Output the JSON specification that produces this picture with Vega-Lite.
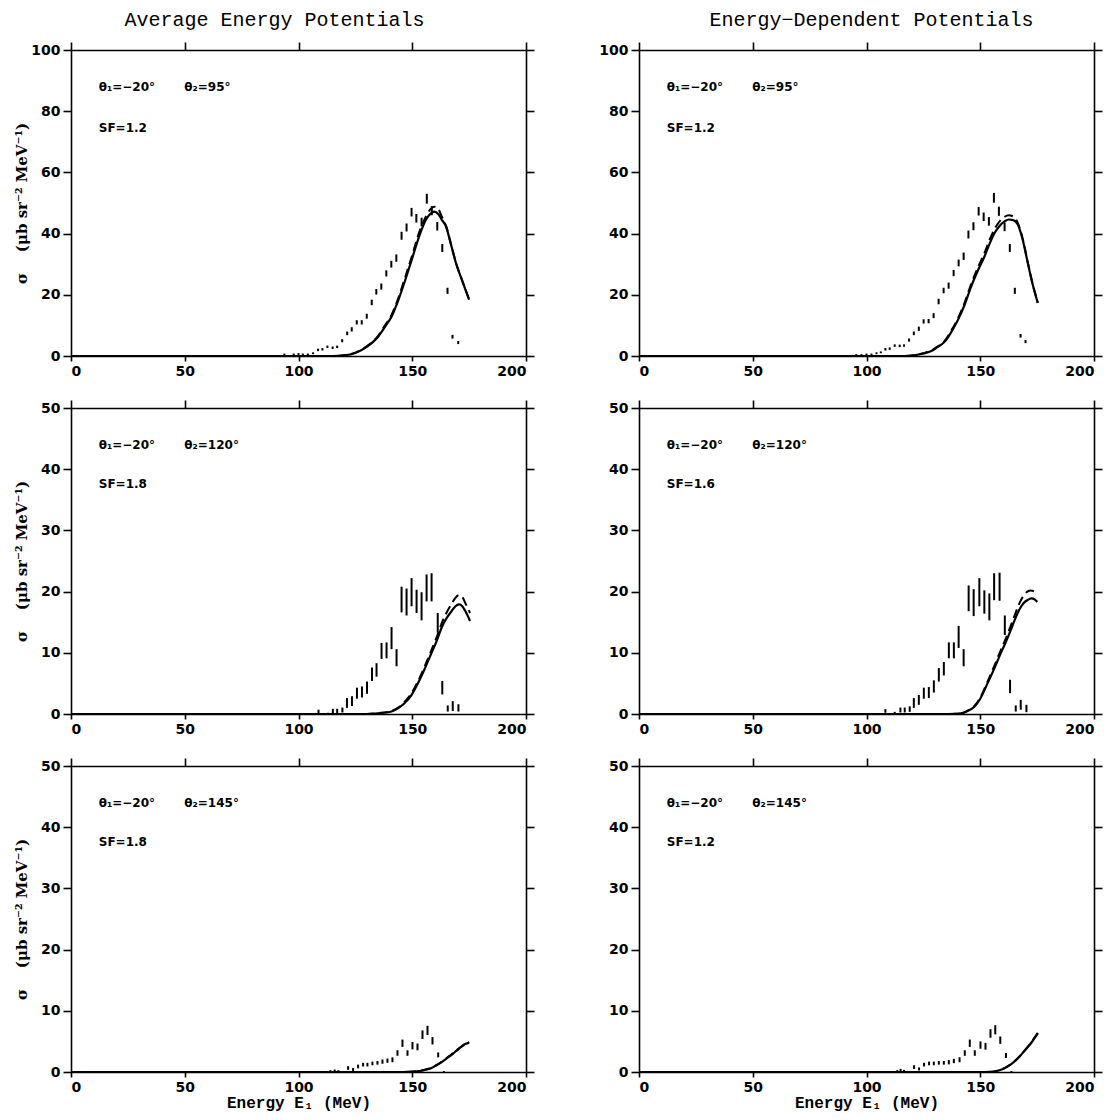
{
"$schema":"https://vega.github.io/schema/vega-lite/v6.json",
"background":"white",
"padding":{"left":14,"top":10,"right":4,"bottom":8},
"config":{"view":{"stroke":null},"axis":{"grid":false,"domainColor":"black","domainWidth":1.6,"tickColor":"black","tickWidth":1.6,"tickSize":8,"labelFont":"DejaVu Sans","labelFontWeight":"bold","labelFontSize":14,"labelColor":"black","titleColor":"black"}},
"datasets":{
"pts":[
{"p":1,"E":93.8,"v":0.5,"e":0.3},{"p":1,"E":97.9,"v":0.5,"e":0.3},{"p":1,"E":100,"v":0.65,"e":0.3},{"p":1,"E":101.9,"v":0.5,"e":0.3},{"p":1,"E":104.1,"v":0.5,"e":0.3},{"p":1,"E":106.4,"v":0.9,"e":0.3},{"p":1,"E":108.6,"v":2,"e":0.4},{"p":1,"E":110.5,"v":2.2,"e":0.4},{"p":1,"E":112.7,"v":3,"e":0.4},{"p":1,"E":115,"v":2.7,"e":0.4},{"p":1,"E":117,"v":3,"e":0.4},{"p":1,"E":119.2,"v":5,"e":0.5},{"p":1,"E":121.4,"v":7.4,"e":0.6},{"p":1,"E":123.4,"v":8.7,"e":0.7},{"p":1,"E":125.6,"v":11,"e":0.7},{"p":1,"E":127.8,"v":11,"e":0.7},{"p":1,"E":130,"v":13,"e":0.8},{"p":1,"E":132.2,"v":17.5,"e":0.9},{"p":1,"E":134.2,"v":21,"e":0.9},{"p":1,"E":136.4,"v":22.7,"e":1},{"p":1,"E":138.6,"v":27,"e":1},{"p":1,"E":140.8,"v":30,"e":1.1},{"p":1,"E":143,"v":32,"e":1.2},{"p":1,"E":145.3,"v":39.3,"e":1.3},{"p":1,"E":147.5,"v":42,"e":1.3},{"p":1,"E":149.7,"v":47,"e":1.4},{"p":1,"E":151.8,"v":45,"e":1.4},{"p":1,"E":154.1,"v":43.8,"e":1.4},{"p":1,"E":156.4,"v":51.4,"e":1.6},{"p":1,"E":158.6,"v":47.5,"e":1.5},{"p":1,"E":161,"v":42.4,"e":1.4},{"p":1,"E":163.2,"v":35.3,"e":1.3},{"p":1,"E":165.5,"v":21.3,"e":1},{"p":1,"E":167.7,"v":6.3,"e":0.6},{"p":1,"E":170.2,"v":4.4,"e":0.5},
{"p":2,"E":95.5,"v":0.3,"e":0.3},{"p":2,"E":97.8,"v":0.3,"e":0.3},{"p":2,"E":100,"v":0.5,"e":0.3},{"p":2,"E":102.2,"v":0.5,"e":0.3},{"p":2,"E":104.4,"v":0.9,"e":0.3},{"p":2,"E":106.3,"v":1.2,"e":0.3},{"p":2,"E":108.3,"v":2.2,"e":0.4},{"p":2,"E":110.2,"v":2.4,"e":0.4},{"p":2,"E":112.4,"v":3.4,"e":0.4},{"p":2,"E":114.6,"v":3.3,"e":0.4},{"p":2,"E":116.5,"v":3.4,"e":0.4},{"p":2,"E":118.7,"v":5.2,"e":0.5},{"p":2,"E":120.8,"v":7.4,"e":0.6},{"p":2,"E":123,"v":8.9,"e":0.7},{"p":2,"E":125.1,"v":11.3,"e":0.7},{"p":2,"E":127.3,"v":11.4,"e":0.7},{"p":2,"E":129.5,"v":13.2,"e":0.8},{"p":2,"E":131.7,"v":17.8,"e":0.9},{"p":2,"E":133.9,"v":21.4,"e":0.9},{"p":2,"E":136.1,"v":23,"e":1},{"p":2,"E":138.3,"v":27.1,"e":1},{"p":2,"E":140.5,"v":30.4,"e":1.1},{"p":2,"E":142.7,"v":32.6,"e":1.2},{"p":2,"E":144.8,"v":39.7,"e":1.3},{"p":2,"E":147,"v":42.4,"e":1.3},{"p":2,"E":149.3,"v":47.3,"e":1.4},{"p":2,"E":151.5,"v":45.5,"e":1.4},{"p":2,"E":153.8,"v":44,"e":1.4},{"p":2,"E":156,"v":51.7,"e":1.6},{"p":2,"E":158.2,"v":47.3,"e":1.5},{"p":2,"E":160.7,"v":42.2,"e":1.4},{"p":2,"E":163,"v":35.3,"e":1.3},{"p":2,"E":165.2,"v":21.3,"e":1},{"p":2,"E":167.7,"v":6.6,"e":0.6},{"p":2,"E":169.9,"v":4.7,"e":0.5},
{"p":3,"E":108.8,"v":0.4,"e":0.3},{"p":3,"E":112.9,"v":0.1,"e":0.1},{"p":3,"E":115.1,"v":0.5,"e":0.35},{"p":3,"E":117,"v":0.5,"e":0.35},{"p":3,"E":119.3,"v":0.65,"e":0.4},{"p":3,"E":121.3,"v":1.8,"e":0.8},{"p":3,"E":123.5,"v":2.1,"e":0.8},{"p":3,"E":125.7,"v":3.4,"e":0.9},{"p":3,"E":127.9,"v":3.6,"e":0.9},{"p":3,"E":130.1,"v":4.3,"e":1},{"p":3,"E":132.3,"v":6.5,"e":1.1},{"p":3,"E":134.3,"v":7.2,"e":1.1},{"p":3,"E":136.5,"v":10.3,"e":1.3},{"p":3,"E":138.7,"v":10.4,"e":1.3},{"p":3,"E":140.9,"v":12.4,"e":1.8},{"p":3,"E":143.1,"v":9.2,"e":1.4},{"p":3,"E":145.3,"v":18.7,"e":2.1},{"p":3,"E":147.5,"v":18.3,"e":2.2},{"p":3,"E":149.7,"v":19.9,"e":2.3},{"p":3,"E":151.9,"v":18.4,"e":1.9},{"p":3,"E":154.1,"v":17.6,"e":2.3},{"p":3,"E":156.3,"v":20.6,"e":2.2},{"p":3,"E":158.5,"v":20.7,"e":2.3},{"p":3,"E":161.2,"v":14.9,"e":1.6},{"p":3,"E":163.2,"v":4.3,"e":1.1},{"p":3,"E":165.6,"v":0.9,"e":0.5},{"p":3,"E":167.8,"v":1.3,"e":0.8},{"p":3,"E":170.3,"v":1,"e":0.6},
{"p":4,"E":108.3,"v":0.5,"e":0.3},{"p":4,"E":112.4,"v":0.2,"e":0.15},{"p":4,"E":114.9,"v":0.65,"e":0.4},{"p":4,"E":116.8,"v":0.65,"e":0.4},{"p":4,"E":119,"v":0.8,"e":0.45},{"p":4,"E":120.8,"v":1.8,"e":0.8},{"p":4,"E":123,"v":2.3,"e":0.8},{"p":4,"E":125.2,"v":3.4,"e":0.9},{"p":4,"E":127.4,"v":3.5,"e":0.9},{"p":4,"E":129.6,"v":4.5,"e":1},{"p":4,"E":131.8,"v":6.4,"e":1.1},{"p":4,"E":134,"v":7.4,"e":1.1},{"p":4,"E":136.2,"v":10.4,"e":1.3},{"p":4,"E":138.4,"v":10.4,"e":1.3},{"p":4,"E":140.5,"v":12.6,"e":1.8},{"p":4,"E":142.7,"v":9.2,"e":1.4},{"p":4,"E":144.9,"v":18.9,"e":2.1},{"p":4,"E":147.1,"v":18.2,"e":2.2},{"p":4,"E":149.6,"v":19.9,"e":2.3},{"p":4,"E":151.8,"v":18.3,"e":1.9},{"p":4,"E":154,"v":17.5,"e":2.2},{"p":4,"E":156.1,"v":20.8,"e":2.2},{"p":4,"E":158.5,"v":20.8,"e":2.3},{"p":4,"E":160.8,"v":14.5,"e":1.6},{"p":4,"E":163.1,"v":4.5,"e":1.1},{"p":4,"E":165.6,"v":0.9,"e":0.5},{"p":4,"E":167.8,"v":1.5,"e":0.8},{"p":4,"E":170.3,"v":0.9,"e":0.6},
{"p":5,"E":114,"v":0.15,"e":0.15},{"p":5,"E":115.9,"v":0.2,"e":0.2},{"p":5,"E":117.5,"v":0.15,"e":0.15},{"p":5,"E":121.8,"v":0.65,"e":0.3},{"p":5,"E":124,"v":0.4,"e":0.25},{"p":5,"E":126.2,"v":0.9,"e":0.3},{"p":5,"E":128.4,"v":1.2,"e":0.3},{"p":5,"E":130.3,"v":1.2,"e":0.3},{"p":5,"E":132.5,"v":1.4,"e":0.3},{"p":5,"E":134.7,"v":1.5,"e":0.3},{"p":5,"E":136.9,"v":1.7,"e":0.35},{"p":5,"E":139.1,"v":1.85,"e":0.35},{"p":5,"E":141.3,"v":2,"e":0.4},{"p":5,"E":143.5,"v":3.1,"e":0.45},{"p":5,"E":145.7,"v":4.7,"e":0.6},{"p":5,"E":147.9,"v":3.1,"e":0.45},{"p":5,"E":150.1,"v":4.3,"e":0.6},{"p":5,"E":152.3,"v":4.1,"e":0.55},{"p":5,"E":154.5,"v":6.1,"e":0.7},{"p":5,"E":156.7,"v":6.8,"e":0.75},{"p":5,"E":158.9,"v":5.1,"e":0.6},{"p":5,"E":161.4,"v":2.8,"e":0.4},{"p":5,"E":163.9,"v":0.05,"e":0.1},
{"p":6,"E":113.5,"v":0.15,"e":0.15},{"p":6,"E":115,"v":0.3,"e":0.2},{"p":6,"E":116.5,"v":0.2,"e":0.15},{"p":6,"E":120.9,"v":0.8,"e":0.3},{"p":6,"E":123.1,"v":0.5,"e":0.25},{"p":6,"E":125.3,"v":1.2,"e":0.3},{"p":6,"E":127.5,"v":1.4,"e":0.3},{"p":6,"E":129.6,"v":1.4,"e":0.3},{"p":6,"E":131.8,"v":1.5,"e":0.3},{"p":6,"E":134,"v":1.5,"e":0.3},{"p":6,"E":136.2,"v":1.6,"e":0.35},{"p":6,"E":138.4,"v":1.8,"e":0.35},{"p":6,"E":140.9,"v":2,"e":0.4},{"p":6,"E":143.2,"v":3.1,"e":0.45},{"p":6,"E":145.4,"v":4.7,"e":0.6},{"p":6,"E":147.6,"v":3.1,"e":0.45},{"p":6,"E":150.1,"v":4.4,"e":0.6},{"p":6,"E":152.3,"v":4.2,"e":0.55},{"p":6,"E":154.5,"v":6.3,"e":0.7},{"p":6,"E":156.6,"v":6.9,"e":0.75},{"p":6,"E":158.8,"v":5.2,"e":0.6},{"p":6,"E":161.3,"v":2.7,"e":0.4},{"p":6,"E":163.7,"v":0.05,"e":0.1}
],
"curves":[
{"p":1,"k":"s","E":0,"v":0},{"p":1,"k":"s","E":115,"v":0},{"p":1,"k":"s","E":120,"v":0.2},{"p":1,"k":"s","E":125,"v":1},{"p":1,"k":"s","E":130,"v":3},{"p":1,"k":"s","E":135,"v":6.3},{"p":1,"k":"s","E":138,"v":9.5},{"p":1,"k":"s","E":141,"v":13},{"p":1,"k":"s","E":144,"v":18.5},{"p":1,"k":"s","E":147,"v":25},{"p":1,"k":"s","E":150,"v":32},{"p":1,"k":"s","E":153,"v":39},{"p":1,"k":"s","E":156,"v":44.5},{"p":1,"k":"s","E":158,"v":46.5},{"p":1,"k":"s","E":159.7,"v":47.2},{"p":1,"k":"s","E":161.5,"v":46.3},{"p":1,"k":"s","E":163,"v":44.5},{"p":1,"k":"s","E":164.8,"v":42.4},{"p":1,"k":"s","E":167,"v":36.5},{"p":1,"k":"s","E":169.2,"v":30.4},{"p":1,"k":"s","E":172,"v":24.5},{"p":1,"k":"s","E":175,"v":18.4},
{"p":1,"k":"d","E":0,"v":0},{"p":1,"k":"d","E":115,"v":0},{"p":1,"k":"d","E":120,"v":0.25},{"p":1,"k":"d","E":125,"v":1.1},{"p":1,"k":"d","E":130,"v":3.2},{"p":1,"k":"d","E":135,"v":6.6},{"p":1,"k":"d","E":138,"v":10},{"p":1,"k":"d","E":141,"v":13.6},{"p":1,"k":"d","E":144,"v":19.2},{"p":1,"k":"d","E":147,"v":26},{"p":1,"k":"d","E":150,"v":33},{"p":1,"k":"d","E":153,"v":40.3},{"p":1,"k":"d","E":156,"v":45.6},{"p":1,"k":"d","E":158,"v":48},{"p":1,"k":"d","E":159.7,"v":48.8},{"p":1,"k":"d","E":161.5,"v":48},{"p":1,"k":"d","E":163,"v":45.5},{"p":1,"k":"d","E":164.8,"v":42.6},{"p":1,"k":"d","E":167,"v":36.7},{"p":1,"k":"d","E":169.2,"v":30.5},{"p":1,"k":"d","E":172,"v":24.6},{"p":1,"k":"d","E":175,"v":18.5},
{"p":2,"k":"s","E":0,"v":0},{"p":2,"k":"s","E":117,"v":0},{"p":2,"k":"s","E":121,"v":0.2},{"p":2,"k":"s","E":125,"v":0.8},{"p":2,"k":"s","E":128.5,"v":1.6},{"p":2,"k":"s","E":131,"v":2.8},{"p":2,"k":"s","E":134.4,"v":4.7},{"p":2,"k":"s","E":137,"v":7.5},{"p":2,"k":"s","E":140.2,"v":11.8},{"p":2,"k":"s","E":143,"v":16.5},{"p":2,"k":"s","E":146,"v":22.7},{"p":2,"k":"s","E":149,"v":28},{"p":2,"k":"s","E":151.9,"v":32.6},{"p":2,"k":"s","E":154,"v":36.5},{"p":2,"k":"s","E":156.3,"v":40.2},{"p":2,"k":"s","E":158.5,"v":42.5},{"p":2,"k":"s","E":160.7,"v":44},{"p":2,"k":"s","E":162.5,"v":44.6},{"p":2,"k":"s","E":164.5,"v":44.4},{"p":2,"k":"s","E":166.5,"v":43},{"p":2,"k":"s","E":168.5,"v":38.5},{"p":2,"k":"s","E":170.9,"v":30.4},{"p":2,"k":"s","E":173,"v":23.5},{"p":2,"k":"s","E":175.3,"v":17.3},
{"p":2,"k":"d","E":0,"v":0},{"p":2,"k":"d","E":117,"v":0},{"p":2,"k":"d","E":121,"v":0.25},{"p":2,"k":"d","E":125,"v":0.9},{"p":2,"k":"d","E":128.5,"v":1.8},{"p":2,"k":"d","E":131,"v":3},{"p":2,"k":"d","E":134.4,"v":5},{"p":2,"k":"d","E":137,"v":8},{"p":2,"k":"d","E":140.2,"v":12.3},{"p":2,"k":"d","E":143,"v":17.2},{"p":2,"k":"d","E":146,"v":23.5},{"p":2,"k":"d","E":149,"v":29},{"p":2,"k":"d","E":151.9,"v":33.8},{"p":2,"k":"d","E":154,"v":37.8},{"p":2,"k":"d","E":156.3,"v":41.5},{"p":2,"k":"d","E":158.5,"v":44},{"p":2,"k":"d","E":160.7,"v":45.5},{"p":2,"k":"d","E":162.5,"v":46},{"p":2,"k":"d","E":164.5,"v":45.6},{"p":2,"k":"d","E":166.5,"v":43.5},{"p":2,"k":"d","E":168.5,"v":38.8},{"p":2,"k":"d","E":170.9,"v":30.6},{"p":2,"k":"d","E":173,"v":23.7},{"p":2,"k":"d","E":175.3,"v":17.4},
{"p":3,"k":"s","E":0,"v":0},{"p":3,"k":"s","E":130,"v":0},{"p":3,"k":"s","E":135,"v":0.1},{"p":3,"k":"s","E":140.9,"v":0.4},{"p":3,"k":"s","E":144,"v":1},{"p":3,"k":"s","E":146.7,"v":1.8},{"p":3,"k":"s","E":149.5,"v":3},{"p":3,"k":"s","E":152.6,"v":5.1},{"p":3,"k":"s","E":155.5,"v":7.4},{"p":3,"k":"s","E":158.5,"v":10},{"p":3,"k":"s","E":160.8,"v":12},{"p":3,"k":"s","E":162.9,"v":14.1},{"p":3,"k":"s","E":165,"v":15.6},{"p":3,"k":"s","E":167.3,"v":16.8},{"p":3,"k":"s","E":169,"v":17.6},{"p":3,"k":"s","E":170.5,"v":17.9},{"p":3,"k":"s","E":172,"v":17.6},{"p":3,"k":"s","E":173.2,"v":16.9},{"p":3,"k":"s","E":175.4,"v":15.2},
{"p":3,"k":"d","E":0,"v":0},{"p":3,"k":"d","E":130,"v":0},{"p":3,"k":"d","E":135,"v":0.15},{"p":3,"k":"d","E":140.9,"v":0.5},{"p":3,"k":"d","E":144,"v":1.1},{"p":3,"k":"d","E":146.7,"v":2},{"p":3,"k":"d","E":149.5,"v":3.3},{"p":3,"k":"d","E":152.6,"v":5.4},{"p":3,"k":"d","E":155.5,"v":7.8},{"p":3,"k":"d","E":158.5,"v":10.5},{"p":3,"k":"d","E":160.8,"v":12.6},{"p":3,"k":"d","E":162.9,"v":14.8},{"p":3,"k":"d","E":165,"v":16.5},{"p":3,"k":"d","E":167.3,"v":18},{"p":3,"k":"d","E":169,"v":19},{"p":3,"k":"d","E":170.5,"v":19.4},{"p":3,"k":"d","E":172,"v":19.1},{"p":3,"k":"d","E":173.5,"v":18},{"p":3,"k":"d","E":175.4,"v":16.5},
{"p":4,"k":"s","E":0,"v":0},{"p":4,"k":"s","E":136,"v":0},{"p":4,"k":"s","E":141.5,"v":0.1},{"p":4,"k":"s","E":144.5,"v":0.5},{"p":4,"k":"s","E":147.4,"v":1.2},{"p":4,"k":"s","E":150,"v":2.5},{"p":4,"k":"s","E":153.2,"v":5},{"p":4,"k":"s","E":156,"v":7.3},{"p":4,"k":"s","E":159,"v":9.9},{"p":4,"k":"s","E":161.3,"v":11.8},{"p":4,"k":"s","E":163.4,"v":13.7},{"p":4,"k":"s","E":165.3,"v":15.5},{"p":4,"k":"s","E":167.1,"v":17},{"p":4,"k":"s","E":169,"v":18.1},{"p":4,"k":"s","E":170.7,"v":18.6},{"p":4,"k":"s","E":172.5,"v":18.9},{"p":4,"k":"s","E":174,"v":18.7},{"p":4,"k":"s","E":175.1,"v":18.3},
{"p":4,"k":"d","E":0,"v":0},{"p":4,"k":"d","E":136,"v":0},{"p":4,"k":"d","E":141.5,"v":0.12},{"p":4,"k":"d","E":144.5,"v":0.55},{"p":4,"k":"d","E":147.4,"v":1.3},{"p":4,"k":"d","E":150,"v":2.7},{"p":4,"k":"d","E":153.2,"v":5.3},{"p":4,"k":"d","E":156,"v":7.7},{"p":4,"k":"d","E":159,"v":10.4},{"p":4,"k":"d","E":161.3,"v":12.4},{"p":4,"k":"d","E":163.4,"v":14.4},{"p":4,"k":"d","E":165.3,"v":16.3},{"p":4,"k":"d","E":167.1,"v":18},{"p":4,"k":"d","E":169,"v":19.3},{"p":4,"k":"d","E":170.7,"v":20},{"p":4,"k":"d","E":172.2,"v":20.2},{"p":4,"k":"d","E":174,"v":20},{"p":4,"k":"d","E":175.1,"v":19.8},
{"p":5,"k":"s","E":0,"v":0},{"p":5,"k":"s","E":146,"v":0},{"p":5,"k":"s","E":149.7,"v":0.05},{"p":5,"k":"s","E":152,"v":0.12},{"p":5,"k":"s","E":154,"v":0.2},{"p":5,"k":"s","E":156.3,"v":0.4},{"p":5,"k":"s","E":158.5,"v":0.65},{"p":5,"k":"s","E":160.7,"v":1.1},{"p":5,"k":"s","E":162.9,"v":1.6},{"p":5,"k":"s","E":165,"v":2.2},{"p":5,"k":"s","E":167.3,"v":2.8},{"p":5,"k":"s","E":169.5,"v":3.5},{"p":5,"k":"s","E":171.7,"v":4.2},{"p":5,"k":"s","E":173.5,"v":4.6},{"p":5,"k":"s","E":175,"v":4.8},
{"p":5,"k":"d","E":0,"v":0},{"p":5,"k":"d","E":146,"v":0},{"p":5,"k":"d","E":149.7,"v":0.06},{"p":5,"k":"d","E":152,"v":0.14},{"p":5,"k":"d","E":154,"v":0.25},{"p":5,"k":"d","E":156.3,"v":0.45},{"p":5,"k":"d","E":158.5,"v":0.7},{"p":5,"k":"d","E":160.7,"v":1.15},{"p":5,"k":"d","E":162.9,"v":1.65},{"p":5,"k":"d","E":165,"v":2.25},{"p":5,"k":"d","E":167.3,"v":2.9},{"p":5,"k":"d","E":169.5,"v":3.55},{"p":5,"k":"d","E":171.7,"v":4.15},{"p":5,"k":"d","E":173.5,"v":4.55},{"p":5,"k":"d","E":175,"v":4.9},
{"p":6,"k":"s","E":0,"v":0},{"p":6,"k":"s","E":152,"v":0},{"p":6,"k":"s","E":155.9,"v":0.05},{"p":6,"k":"s","E":158,"v":0.25},{"p":6,"k":"s","E":160.3,"v":0.55},{"p":6,"k":"s","E":162.5,"v":1},{"p":6,"k":"s","E":164.7,"v":1.6},{"p":6,"k":"s","E":167,"v":2.4},{"p":6,"k":"s","E":169.1,"v":3.3},{"p":6,"k":"s","E":171,"v":4.1},{"p":6,"k":"s","E":172.7,"v":4.9},{"p":6,"k":"s","E":174,"v":5.6},{"p":6,"k":"s","E":175.3,"v":6.3},
{"p":6,"k":"d","E":0,"v":0},{"p":6,"k":"d","E":152,"v":0},{"p":6,"k":"d","E":155.9,"v":0.06},{"p":6,"k":"d","E":158,"v":0.27},{"p":6,"k":"d","E":160.3,"v":0.6},{"p":6,"k":"d","E":162.5,"v":1.05},{"p":6,"k":"d","E":164.7,"v":1.65},{"p":6,"k":"d","E":167,"v":2.45},{"p":6,"k":"d","E":169.1,"v":3.35},{"p":6,"k":"d","E":171,"v":4.2},{"p":6,"k":"d","E":172.7,"v":5},{"p":6,"k":"d","E":174,"v":5.7},{"p":6,"k":"d","E":175.3,"v":6.4}
],
"ann":[
{"p":1,"t1":"θ₁=−20°\u00a0\u00a0\u00a0\u00a0\u00a0\u00a0\u00a0θ₂=95°","t2":"SF=1.2"},
{"p":2,"t1":"θ₁=−20°\u00a0\u00a0\u00a0\u00a0\u00a0\u00a0\u00a0θ₂=95°","t2":"SF=1.2"},
{"p":3,"t1":"θ₁=−20°\u00a0\u00a0\u00a0\u00a0\u00a0\u00a0\u00a0θ₂=120°","t2":"SF=1.8"},
{"p":4,"t1":"θ₁=−20°\u00a0\u00a0\u00a0\u00a0\u00a0\u00a0\u00a0θ₂=120°","t2":"SF=1.6"},
{"p":5,"t1":"θ₁=−20°\u00a0\u00a0\u00a0\u00a0\u00a0\u00a0\u00a0θ₂=145°","t2":"SF=1.8"},
{"p":6,"t1":"θ₁=−20°\u00a0\u00a0\u00a0\u00a0\u00a0\u00a0\u00a0θ₂=145°","t2":"SF=1.2"}
]},
"columns":2,
"spacing":{"row":52,"column":113},
"bounds":"flush",
"concat":[
{"width":455,"height":306,
 "title":{"text":"Average Energy Potentials","font":"Liberation Mono","fontSize":20,"fontWeight":"normal","color":"black","offset":11,"dx":-24},
 "resolve":{"axis":{"x":"independent","y":"independent"}},
 "layer":[
  {"data":{"name":"pts"},"transform":[{"filter":"datum.p==1"}],"mark":{"type":"errorbar","rule":{"stroke":"black","strokeWidth":2}},
   "encoding":{"x":{"field":"E","type":"quantitative","scale":{"domain":[0,200]},"axis":{"values":[0,50,100,150,200],"title":null,"tickSize":5,"labelPadding":3}},
    "y":{"field":"v","type":"quantitative","scale":{"domain":[0,100]},"axis":{"values":[0,20,40,60,80,100],"title":"σ\u00a0\u00a0\u00a0\u00a0(μb sr⁻² MeV⁻¹)","titleFont":"DejaVu Serif","titleFontSize":15,"titleFontWeight":"bold","titleX":-50,"titleBaseline":"middle","labelPadding":3}},
    "yError":{"field":"e"}}},
  {"data":{"name":"curves"},"transform":[{"filter":"datum.p==1 && datum.k=='s'"}],"mark":{"type":"line","color":"black","strokeWidth":2.2,"interpolate":"monotone"},
   "encoding":{"x":{"field":"E","type":"quantitative","scale":{"domain":[0,200]},"axis":{"orient":"top","labels":false,"title":null,"values":[0,50,100,150,200]}},
    "y":{"field":"v","type":"quantitative","scale":{"domain":[0,100]},"axis":{"orient":"right","labels":false,"title":null,"values":[0,20,40,60,80,100]}}}},
  {"data":{"name":"curves"},"transform":[{"filter":"datum.p==1 && datum.k=='d'"}],"mark":{"type":"line","color":"black","strokeWidth":2,"strokeDash":[9,5],"interpolate":"monotone"},
   "encoding":{"x":{"field":"E","type":"quantitative","scale":{"domain":[0,200]},"axis":null},"y":{"field":"v","type":"quantitative","scale":{"domain":[0,100]},"axis":null}}},
  {"data":{"name":"ann"},"transform":[{"filter":"datum.p==1"}],"mark":{"type":"text","align":"left","baseline":"middle","font":"DejaVu Sans","fontWeight":"bold","fontSize":12,"color":"black"},
   "encoding":{"x":{"datum":12.2,"type":"quantitative","axis":null},"y":{"datum":88,"type":"quantitative","axis":null},"text":{"field":"t1"}}},
  {"data":{"name":"ann"},"transform":[{"filter":"datum.p==1"}],"mark":{"type":"text","align":"left","baseline":"middle","font":"DejaVu Sans","fontWeight":"bold","fontSize":12,"color":"black"},
   "encoding":{"x":{"datum":12.2,"type":"quantitative","axis":null},"y":{"datum":74.5,"type":"quantitative","axis":null},"text":{"field":"t2"}}}
 ]},
{"width":455,"height":306,
 "title":{"text":"Energy−Dependent Potentials","font":"Liberation Mono","fontSize":20,"fontWeight":"normal","color":"black","offset":11,"dx":5},
 "resolve":{"axis":{"x":"independent","y":"independent"}},
 "layer":[
  {"data":{"name":"pts"},"transform":[{"filter":"datum.p==2"}],"mark":{"type":"errorbar","rule":{"stroke":"black","strokeWidth":2}},
   "encoding":{"x":{"field":"E","type":"quantitative","scale":{"domain":[0,200]},"axis":{"values":[0,50,100,150,200],"title":null,"tickSize":5,"labelPadding":3}},
    "y":{"field":"v","type":"quantitative","scale":{"domain":[0,100]},"axis":{"values":[0,20,40,60,80,100],"title":null,"labelPadding":3}},
    "yError":{"field":"e"}}},
  {"data":{"name":"curves"},"transform":[{"filter":"datum.p==2 && datum.k=='s'"}],"mark":{"type":"line","color":"black","strokeWidth":2.2,"interpolate":"monotone"},
   "encoding":{"x":{"field":"E","type":"quantitative","scale":{"domain":[0,200]},"axis":{"orient":"top","labels":false,"title":null,"values":[0,50,100,150,200]}},
    "y":{"field":"v","type":"quantitative","scale":{"domain":[0,100]},"axis":{"orient":"right","labels":false,"title":null,"values":[0,20,40,60,80,100]}}}},
  {"data":{"name":"curves"},"transform":[{"filter":"datum.p==2 && datum.k=='d'"}],"mark":{"type":"line","color":"black","strokeWidth":2,"strokeDash":[9,5],"interpolate":"monotone"},
   "encoding":{"x":{"field":"E","type":"quantitative","scale":{"domain":[0,200]},"axis":null},"y":{"field":"v","type":"quantitative","scale":{"domain":[0,100]},"axis":null}}},
  {"data":{"name":"ann"},"transform":[{"filter":"datum.p==2"}],"mark":{"type":"text","align":"left","baseline":"middle","font":"DejaVu Sans","fontWeight":"bold","fontSize":12,"color":"black"},
   "encoding":{"x":{"datum":12.2,"type":"quantitative","axis":null},"y":{"datum":88,"type":"quantitative","axis":null},"text":{"field":"t1"}}},
  {"data":{"name":"ann"},"transform":[{"filter":"datum.p==2"}],"mark":{"type":"text","align":"left","baseline":"middle","font":"DejaVu Sans","fontWeight":"bold","fontSize":12,"color":"black"},
   "encoding":{"x":{"datum":12.2,"type":"quantitative","axis":null},"y":{"datum":74.5,"type":"quantitative","axis":null},"text":{"field":"t2"}}}
 ]},
{"width":455,"height":306,
 "resolve":{"axis":{"x":"independent","y":"independent"}},
 "layer":[
  {"data":{"name":"pts"},"transform":[{"filter":"datum.p==3"}],"mark":{"type":"errorbar","rule":{"stroke":"black","strokeWidth":2}},
   "encoding":{"x":{"field":"E","type":"quantitative","scale":{"domain":[0,200]},"axis":{"values":[0,50,100,150,200],"title":null,"tickSize":5,"labelPadding":3}},
    "y":{"field":"v","type":"quantitative","scale":{"domain":[0,50]},"axis":{"values":[0,10,20,30,40,50],"title":"σ\u00a0\u00a0\u00a0\u00a0(μb sr⁻² MeV⁻¹)","titleFont":"DejaVu Serif","titleFontSize":15,"titleFontWeight":"bold","titleX":-50,"titleBaseline":"middle","labelPadding":3}},
    "yError":{"field":"e"}}},
  {"data":{"name":"curves"},"transform":[{"filter":"datum.p==3 && datum.k=='s'"}],"mark":{"type":"line","color":"black","strokeWidth":2.2,"interpolate":"monotone"},
   "encoding":{"x":{"field":"E","type":"quantitative","scale":{"domain":[0,200]},"axis":{"orient":"top","labels":false,"title":null,"values":[0,50,100,150,200]}},
    "y":{"field":"v","type":"quantitative","scale":{"domain":[0,50]},"axis":{"orient":"right","labels":false,"title":null,"values":[0,10,20,30,40,50]}}}},
  {"data":{"name":"curves"},"transform":[{"filter":"datum.p==3 && datum.k=='d'"}],"mark":{"type":"line","color":"black","strokeWidth":2,"strokeDash":[9,5],"interpolate":"monotone"},
   "encoding":{"x":{"field":"E","type":"quantitative","scale":{"domain":[0,200]},"axis":null},"y":{"field":"v","type":"quantitative","scale":{"domain":[0,50]},"axis":null}}},
  {"data":{"name":"ann"},"transform":[{"filter":"datum.p==3"}],"mark":{"type":"text","align":"left","baseline":"middle","font":"DejaVu Sans","fontWeight":"bold","fontSize":12,"color":"black"},
   "encoding":{"x":{"datum":12.2,"type":"quantitative","axis":null},"y":{"datum":44,"type":"quantitative","axis":null},"text":{"field":"t1"}}},
  {"data":{"name":"ann"},"transform":[{"filter":"datum.p==3"}],"mark":{"type":"text","align":"left","baseline":"middle","font":"DejaVu Sans","fontWeight":"bold","fontSize":12,"color":"black"},
   "encoding":{"x":{"datum":12.2,"type":"quantitative","axis":null},"y":{"datum":37.6,"type":"quantitative","axis":null},"text":{"field":"t2"}}}
 ]},
{"width":455,"height":306,
 "resolve":{"axis":{"x":"independent","y":"independent"}},
 "layer":[
  {"data":{"name":"pts"},"transform":[{"filter":"datum.p==4"}],"mark":{"type":"errorbar","rule":{"stroke":"black","strokeWidth":2}},
   "encoding":{"x":{"field":"E","type":"quantitative","scale":{"domain":[0,200]},"axis":{"values":[0,50,100,150,200],"title":null,"tickSize":5,"labelPadding":3}},
    "y":{"field":"v","type":"quantitative","scale":{"domain":[0,50]},"axis":{"values":[0,10,20,30,40,50],"title":null,"labelPadding":3}},
    "yError":{"field":"e"}}},
  {"data":{"name":"curves"},"transform":[{"filter":"datum.p==4 && datum.k=='s'"}],"mark":{"type":"line","color":"black","strokeWidth":2.2,"interpolate":"monotone"},
   "encoding":{"x":{"field":"E","type":"quantitative","scale":{"domain":[0,200]},"axis":{"orient":"top","labels":false,"title":null,"values":[0,50,100,150,200]}},
    "y":{"field":"v","type":"quantitative","scale":{"domain":[0,50]},"axis":{"orient":"right","labels":false,"title":null,"values":[0,10,20,30,40,50]}}}},
  {"data":{"name":"curves"},"transform":[{"filter":"datum.p==4 && datum.k=='d'"}],"mark":{"type":"line","color":"black","strokeWidth":2,"strokeDash":[9,5],"interpolate":"monotone"},
   "encoding":{"x":{"field":"E","type":"quantitative","scale":{"domain":[0,200]},"axis":null},"y":{"field":"v","type":"quantitative","scale":{"domain":[0,50]},"axis":null}}},
  {"data":{"name":"ann"},"transform":[{"filter":"datum.p==4"}],"mark":{"type":"text","align":"left","baseline":"middle","font":"DejaVu Sans","fontWeight":"bold","fontSize":12,"color":"black"},
   "encoding":{"x":{"datum":12.2,"type":"quantitative","axis":null},"y":{"datum":44,"type":"quantitative","axis":null},"text":{"field":"t1"}}},
  {"data":{"name":"ann"},"transform":[{"filter":"datum.p==4"}],"mark":{"type":"text","align":"left","baseline":"middle","font":"DejaVu Sans","fontWeight":"bold","fontSize":12,"color":"black"},
   "encoding":{"x":{"datum":12.2,"type":"quantitative","axis":null},"y":{"datum":37.6,"type":"quantitative","axis":null},"text":{"field":"t2"}}}
 ]},
{"width":455,"height":306,
 "resolve":{"axis":{"x":"independent","y":"independent"}},
 "layer":[
  {"data":{"name":"pts"},"transform":[{"filter":"datum.p==5"}],"mark":{"type":"errorbar","rule":{"stroke":"black","strokeWidth":2}},
   "encoding":{"x":{"field":"E","type":"quantitative","scale":{"domain":[0,200]},"axis":{"values":[0,50,100,150,200],"title":"Energy E₁ (MeV)","titleFont":"Liberation Mono","titleFontSize":16,"titleFontWeight":"bold","titlePadding":0,"tickSize":5,"labelPadding":3}},
    "y":{"field":"v","type":"quantitative","scale":{"domain":[0,50]},"axis":{"values":[0,10,20,30,40,50],"title":"σ\u00a0\u00a0\u00a0\u00a0(μb sr⁻² MeV⁻¹)","titleFont":"DejaVu Serif","titleFontSize":15,"titleFontWeight":"bold","titleX":-50,"titleBaseline":"middle","labelPadding":3}},
    "yError":{"field":"e"}}},
  {"data":{"name":"curves"},"transform":[{"filter":"datum.p==5 && datum.k=='s'"}],"mark":{"type":"line","color":"black","strokeWidth":2.2,"interpolate":"monotone"},
   "encoding":{"x":{"field":"E","type":"quantitative","scale":{"domain":[0,200]},"axis":{"orient":"top","labels":false,"title":null,"values":[0,50,100,150,200]}},
    "y":{"field":"v","type":"quantitative","scale":{"domain":[0,50]},"axis":{"orient":"right","labels":false,"title":null,"values":[0,10,20,30,40,50]}}}},
  {"data":{"name":"curves"},"transform":[{"filter":"datum.p==5 && datum.k=='d'"}],"mark":{"type":"line","color":"black","strokeWidth":2,"strokeDash":[9,5],"interpolate":"monotone"},
   "encoding":{"x":{"field":"E","type":"quantitative","scale":{"domain":[0,200]},"axis":null},"y":{"field":"v","type":"quantitative","scale":{"domain":[0,50]},"axis":null}}},
  {"data":{"name":"ann"},"transform":[{"filter":"datum.p==5"}],"mark":{"type":"text","align":"left","baseline":"middle","font":"DejaVu Sans","fontWeight":"bold","fontSize":12,"color":"black"},
   "encoding":{"x":{"datum":12.2,"type":"quantitative","axis":null},"y":{"datum":44,"type":"quantitative","axis":null},"text":{"field":"t1"}}},
  {"data":{"name":"ann"},"transform":[{"filter":"datum.p==5"}],"mark":{"type":"text","align":"left","baseline":"middle","font":"DejaVu Sans","fontWeight":"bold","fontSize":12,"color":"black"},
   "encoding":{"x":{"datum":12.2,"type":"quantitative","axis":null},"y":{"datum":37.6,"type":"quantitative","axis":null},"text":{"field":"t2"}}}
 ]},
{"width":455,"height":306,
 "resolve":{"axis":{"x":"independent","y":"independent"}},
 "layer":[
  {"data":{"name":"pts"},"transform":[{"filter":"datum.p==6"}],"mark":{"type":"errorbar","rule":{"stroke":"black","strokeWidth":2}},
   "encoding":{"x":{"field":"E","type":"quantitative","scale":{"domain":[0,200]},"axis":{"values":[0,50,100,150,200],"title":"Energy E₁ (MeV)","titleFont":"Liberation Mono","titleFontSize":16,"titleFontWeight":"bold","titlePadding":0,"tickSize":5,"labelPadding":3}},
    "y":{"field":"v","type":"quantitative","scale":{"domain":[0,50]},"axis":{"values":[0,10,20,30,40,50],"title":null,"labelPadding":3}},
    "yError":{"field":"e"}}},
  {"data":{"name":"curves"},"transform":[{"filter":"datum.p==6 && datum.k=='s'"}],"mark":{"type":"line","color":"black","strokeWidth":2.2,"interpolate":"monotone"},
   "encoding":{"x":{"field":"E","type":"quantitative","scale":{"domain":[0,200]},"axis":{"orient":"top","labels":false,"title":null,"values":[0,50,100,150,200]}},
    "y":{"field":"v","type":"quantitative","scale":{"domain":[0,50]},"axis":{"orient":"right","labels":false,"title":null,"values":[0,10,20,30,40,50]}}}},
  {"data":{"name":"curves"},"transform":[{"filter":"datum.p==6 && datum.k=='d'"}],"mark":{"type":"line","color":"black","strokeWidth":2,"strokeDash":[9,5],"interpolate":"monotone"},
   "encoding":{"x":{"field":"E","type":"quantitative","scale":{"domain":[0,200]},"axis":null},"y":{"field":"v","type":"quantitative","scale":{"domain":[0,50]},"axis":null}}},
  {"data":{"name":"ann"},"transform":[{"filter":"datum.p==6"}],"mark":{"type":"text","align":"left","baseline":"middle","font":"DejaVu Sans","fontWeight":"bold","fontSize":12,"color":"black"},
   "encoding":{"x":{"datum":12.2,"type":"quantitative","axis":null},"y":{"datum":44,"type":"quantitative","axis":null},"text":{"field":"t1"}}},
  {"data":{"name":"ann"},"transform":[{"filter":"datum.p==6"}],"mark":{"type":"text","align":"left","baseline":"middle","font":"DejaVu Sans","fontWeight":"bold","fontSize":12,"color":"black"},
   "encoding":{"x":{"datum":12.2,"type":"quantitative","axis":null},"y":{"datum":37.6,"type":"quantitative","axis":null},"text":{"field":"t2"}}}
 ]}
]
}
